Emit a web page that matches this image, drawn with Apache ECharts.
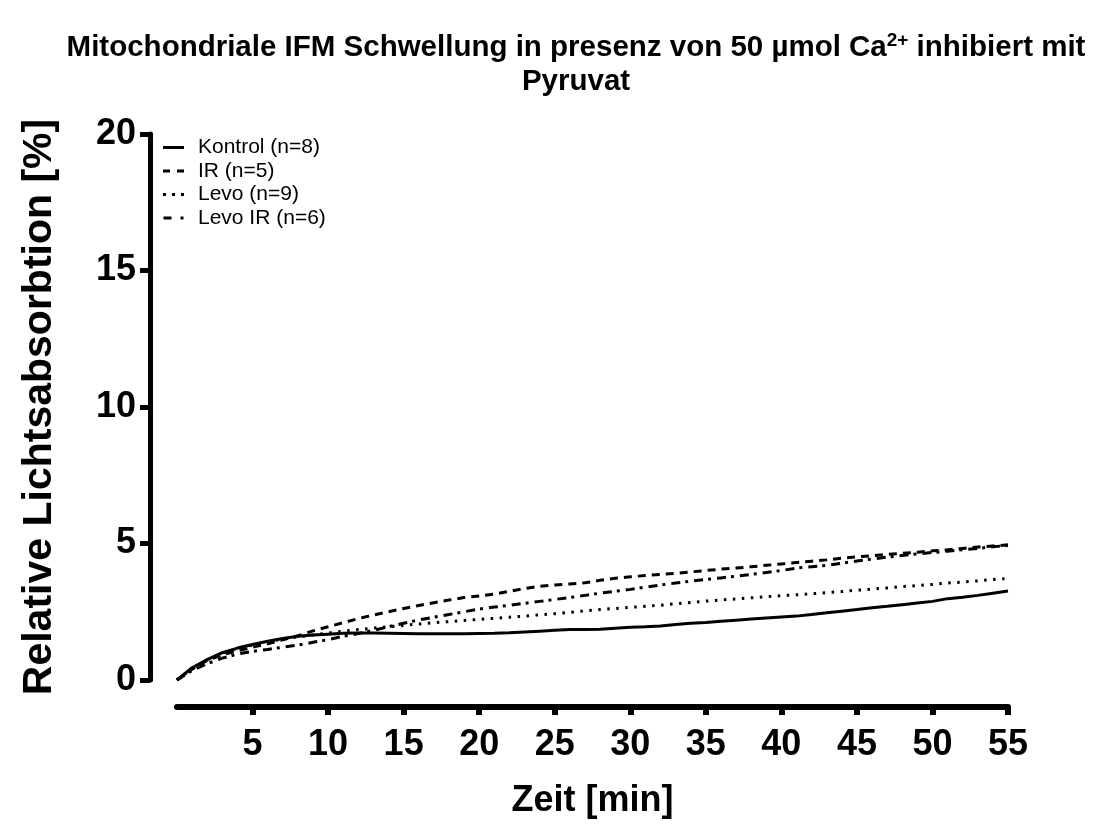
<!DOCTYPE html>
<html><head><meta charset="utf-8">
<script src="https://cdn.jsdelivr.net/npm/echarts@6/dist/echarts.min.js"></script>
<style>html,body{margin:0;padding:0;background:#fff}#c{width:1103px;height:824px}</style>
</head><body><div id="c"></div>
<script>
const times = [0,1,2,3,4,5,6,7,8,9,10,11,12,13,14,15,16,17,18,19,20,21,22,23,24,25,26,27,28,29,30,31,32,33,34,35,36,37,38,39,40,41,42,43,44,45,46,47,48,49,50,51,52,53,54,55];
const kontrol = [0,0.45,0.75,1.0,1.17,1.3,1.42,1.52,1.6,1.65,1.68,1.71,1.72,1.72,1.71,1.7,1.69,1.69,1.69,1.69,1.7,1.71,1.73,1.76,1.79,1.82,1.85,1.85,1.86,1.9,1.93,1.95,1.98,2.03,2.08,2.11,2.15,2.19,2.23,2.27,2.31,2.34,2.4,2.46,2.52,2.58,2.65,2.7,2.76,2.82,2.88,2.98,3.03,3.1,3.18,3.26];
const ir = [0,0.4,0.72,0.92,1.07,1.2,1.33,1.47,1.62,1.8,1.95,2.1,2.25,2.38,2.5,2.62,2.73,2.83,2.93,3.02,3.08,3.15,3.25,3.35,3.43,3.48,3.52,3.56,3.65,3.73,3.78,3.83,3.87,3.91,3.96,4.01,4.06,4.1,4.15,4.2,4.25,4.3,4.35,4.4,4.46,4.51,4.55,4.6,4.64,4.68,4.73,4.77,4.82,4.87,4.91,4.95];
const levo = [0,0.42,0.75,0.98,1.15,1.28,1.4,1.5,1.58,1.65,1.72,1.79,1.85,1.9,1.95,2.0,2.05,2.1,2.14,2.18,2.22,2.26,2.3,2.34,2.39,2.43,2.48,2.53,2.58,2.62,2.66,2.7,2.74,2.79,2.84,2.89,2.93,2.97,3.01,3.05,3.09,3.12,3.16,3.2,3.24,3.29,3.33,3.37,3.42,3.46,3.5,3.55,3.59,3.63,3.68,3.72];
const levoIR = [0,0.35,0.6,0.8,0.95,1.05,1.12,1.2,1.28,1.38,1.48,1.6,1.7,1.82,1.95,2.08,2.2,2.3,2.4,2.5,2.6,2.67,2.74,2.81,2.88,2.95,3.02,3.1,3.18,3.25,3.32,3.4,3.48,3.55,3.62,3.68,3.74,3.8,3.87,3.94,4.01,4.1,4.15,4.2,4.28,4.36,4.43,4.5,4.56,4.62,4.67,4.72,4.77,4.82,4.88,4.93];
const seriesNames = ['Kontrol (n=8)', 'IR (n=5)', 'Levo (n=9)', 'Levo IR (n=6)'];
const xTicks = [5,10,15,20,25,30,35,40,45,50,55];
const yTicks = [0,5,10,15,20];
const titleMain = 'Mitochondriale IFM Schwellung in presenz von 50 µmol Ca';
const titleSup = '2+';
const titleRest = ' inhibiert mit';
const titleLine2 = 'Pyruvat';
const xTitle = 'Zeit [min]';
const yTitle = 'Relative Lichtsabsorbtion [%]';

const FONT = 'Liberation Sans';
const dashes = ['solid', [8, 6], [2.5, 6.5], [9, 5, 3, 6]];
const legendIcons = [
  'path://M0,0H21V3H0Z',
  'path://M0,0H7V3H0Z M14,0H21V3H14Z',
  'path://M0,0H3V3H0Z M9,0H12V3H9Z M18,0H21V3H18Z',
  'path://M0,0H8V3H0Z M17,0H20V3H17Z'
];
const allData = [kontrol, ir, levo, levoIR];

const chart = echarts.init(document.getElementById('c'), null, {renderer: 'canvas'});
chart.setOption({
  backgroundColor: '#fff',
  animation: false,
  graphic: [{
    type: 'text', x: 576, y: 31,
    style: {
      text: '{n|' + titleMain + '}{s|' + titleSup + '}{n|' + titleRest + '}\n{n|' + titleLine2 + '}',
      align: 'center', verticalAlign: 'top',
      fill: '#000',
      rich: {
        n: {fontFamily: FONT, fontWeight: 'bold', fontSize: 29.5, lineHeight: 34, fill: '#000'},
        s: {fontFamily: FONT, fontWeight: 'bold', fontSize: 19, lineHeight: 19, verticalAlign: 'top', fill: '#000'}
      }
    }
  }],
  grid: {left: 177, right: 95, top: 134, bottom: 143, containLabel: false},
  legend: {
    orient: 'vertical', left: 163, top: 137, padding: 0,
    itemWidth: 21, itemHeight: 3, itemGap: 2.5,
    data: seriesNames.map((n, i) => ({name: n, icon: legendIcons[i], itemStyle: {color: '#000', borderWidth: 0}})),
    textStyle: {fontFamily: FONT, fontSize: 21, lineHeight: 21, color: '#000', padding: [0, 0, 0, 9]}
  },
  xAxis: {
    type: 'value', min: 0, max: 55, interval: 5, offset: 27,
    name: xTitle, nameLocation: 'middle', nameGap: 76,
    nameTextStyle: {fontFamily: FONT, fontWeight: 'bold', fontSize: 36, color: '#000'},
    axisLine: {onZero: false, lineStyle: {color: '#000', width: 6}},
    axisTick: {length: 8, lineStyle: {color: '#000', width: 6}, customValues: xTicks},
    axisLabel: {customValues: xTicks, margin: 20, fontFamily: FONT, fontWeight: 'bold', fontSize: 36, color: '#000'},
    splitLine: {show: false}
  },
  yAxis: {
    type: 'value', min: 0, max: 20, interval: 5, offset: 27,
    name: yTitle, nameLocation: 'middle', nameGap: 90, nameRotate: 90,
    nameTextStyle: {fontFamily: FONT, fontWeight: 'bold', fontSize: 41, color: '#000'},
    axisLine: {onZero: false, lineStyle: {color: '#000', width: 5}},
    axisTick: {length: 10, lineStyle: {color: '#000', width: 5}, customValues: yTicks},
    axisLabel: {customValues: yTicks, margin: 14, fontFamily: FONT, fontWeight: 'bold', fontSize: 36, color: '#000'},
    splitLine: {show: false}
  },
  series: seriesNames.map((name, i) => ({
    name: name, type: 'line', symbol: 'none', showSymbol: false,
    data: times.map((t, j) => [t, allData[i][j]]),
    lineStyle: {color: '#000', width: 3, type: dashes[i]},
    itemStyle: {color: '#000'}
  }))
});
</script></body></html>
